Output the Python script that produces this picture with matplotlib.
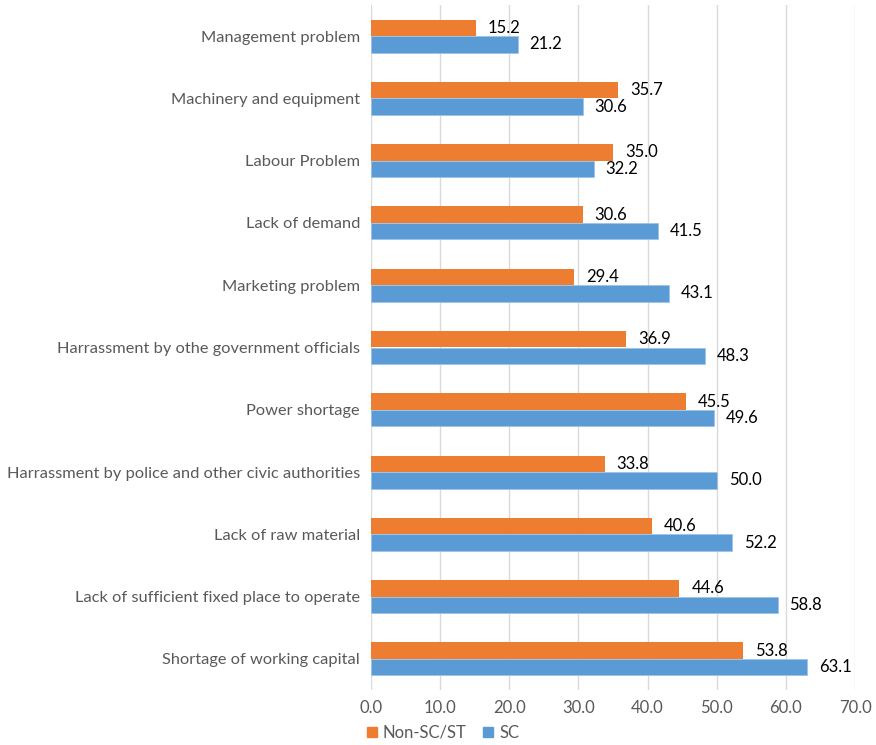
import matplotlib
matplotlib.use("Agg")
import matplotlib.pyplot as plt
import numpy as np
from matplotlib.patches import Patch

categories = [
    "Management problem",
    "Machinery and equipment",
    "Labour Problem",
    "Lack of demand",
    "Marketing problem",
    "Harrassment by othe government officials",
    "Power shortage",
    "Harrassment by police and other civic authorities",
    "Lack of raw material",
    "Lack of sufficient fixed place to operate",
    "Shortage of working capital",
]
non_sc_st = [15.2, 35.7, 35.0, 30.6, 29.4, 36.9, 45.5, 33.8, 40.6, 44.6, 53.8]
sc = [21.2, 30.6, 32.2, 41.5, 43.1, 48.3, 49.6, 50.0, 52.2, 58.8, 63.1]
x_ticks = [0, 10, 20, 30, 40, 50, 60, 70]

ORANGE = "#ED7D31"
BLUE = "#5B9BD5"
GREY = "#595959"

plt.rcParams["font.family"] = ["Lato", "DejaVu Sans"]

fig = plt.figure(figsize=(8.76, 7.45), dpi=100)
ax = fig.add_axes([371 / 876, 1 - 690 / 745, 484 / 876, 685 / 745])

n = len(categories)
y = np.arange(n)
h = 0.265

ax.barh(y - h / 2, non_sc_st, height=h, color=ORANGE, zorder=3)
ax.barh(y + h / 2, sc, height=h, color=BLUE, edgecolor="#9DC3E6", linewidth=0.6, zorder=3)

for yi, v in zip(y - h / 2, non_sc_st):
    ax.annotate(f"{v:.1f}", (v, yi), xytext=(8.6, 0), textcoords="offset points",
                ha="left", va="center", fontsize=12, color="black")
for yi, v in zip(y + h / 2, sc):
    ax.annotate(f"{v:.1f}", (v, yi), xytext=(8.6, 0), textcoords="offset points",
                ha="left", va="center", fontsize=12, color="black")

ax.set_ylim(n - 0.5, -0.5)
ax.set_xlim(0, 70)
ax.set_xticks(x_ticks)
ax.set_xticklabels([f"{t:.1f}" for t in x_ticks], color=GREY, fontsize=12)
ax.set_yticks(y)
ax.set_yticklabels(categories, color=GREY, fontsize=11.8)
ax.tick_params(axis="both", length=0)
ax.tick_params(axis="y", pad=8)
ax.tick_params(axis="x", pad=7)
ax.grid(axis="x", color="#D9D9D9", linewidth=1, zorder=0)
for s in ax.spines.values():
    s.set_visible(False)

handles = [Patch(color=ORANGE, label="Non-SC/ST"), Patch(color=BLUE, label="SC")]
fig.legend(handles=handles, loc="center", bbox_to_anchor=(443 / 876, 1 - 733 / 745),
           ncol=2, frameon=False, fontsize=12, handlelength=0.6, handleheight=0.6,
           columnspacing=1.0, handletextpad=0.35, labelcolor=GREY)

fig.savefig("out.png", dpi=100)
